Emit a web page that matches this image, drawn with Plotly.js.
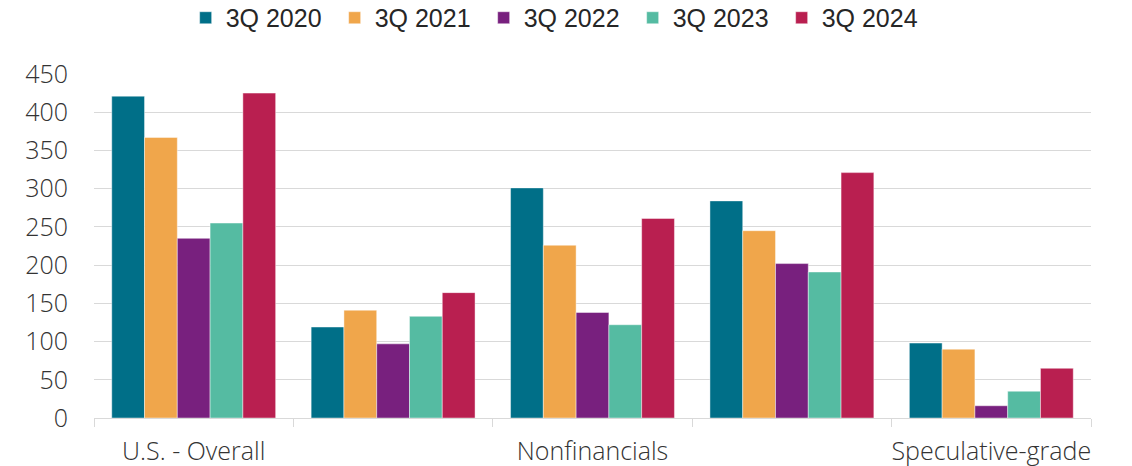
<!DOCTYPE html>
<html>
<head>
<meta charset="utf-8">
<script src="https://cdn.plot.ly/plotly-3.0.1.min.js"></script>
<style>
  html, body { margin: 0; padding: 0; background: #ffffff; }
  #chart { width: 1132px; height: 466px; }
</style>
</head>
<body>
<div id="chart"></div>
<script>
// Segment categories along the x axis
const categories = ['U.S. - Overall', 'Financials', 'Nonfinancials', 'Investment-grade', 'Speculative-grade'];
// Only every other category label is printed under the axis
const tickLabels = ['U.S. - Overall', '', 'Nonfinancials', '', 'Speculative-grade'];

// Quarterly values per segment
const seriesNames = ['3Q 2020', '3Q 2021', '3Q 2022', '3Q 2023', '3Q 2024'];
const q3_2020 = [421, 119, 301, 284, 98];
const q3_2021 = [367, 141, 226, 245, 90];
const q3_2022 = [235, 97, 138, 202, 16];
const q3_2023 = [255, 133, 122, 191, 35];
const q3_2024 = [425, 164, 261, 321, 65];

const seriesValues = [q3_2020, q3_2021, q3_2022, q3_2023, q3_2024];
const seriesColors = ['#006f88', '#f0a64b', '#78207e', '#55bba2', '#b91f50'];

const AXIS_FONT = '"Open Sans", Roboto, sans-serif';
const LEGEND_FONT = '"Liberation Sans", Arial, sans-serif';
const TEXT = '#333333';
const GRID = '#d9d9d9';

const traces = seriesNames.map((name, i) => ({
  type: 'bar',
  name: name,
  x: categories,
  y: seriesValues[i],
  marker: {
    color: seriesColors[i],
    line: { color: 'rgba(255,255,255,0.55)', width: 0.8 }
  },
  hoverinfo: 'x+y+name'
}));

const layout = {
  width: 1132,
  height: 466,
  margin: { l: 94, r: 41, t: 74, b: 48, pad: 0 },
  paper_bgcolor: '#ffffff',
  plot_bgcolor: '#ffffff',
  barmode: 'group',
  bargap: 0.178,
  bargroupgap: 0,
  font: { family: AXIS_FONT, color: TEXT, size: 22 },
  showlegend: true,
  legend: {
    orientation: 'h',
    xref: 'container',
    yref: 'container',
    x: 0.164,
    xanchor: 'left',
    y: 0.9614,
    yanchor: 'middle',
    font: { family: LEGEND_FONT, size: 25, color: '#262626' },
    entrywidth: 104,
    entrywidthmode: 'pixels',
    itemwidth: 30,
    traceorder: 'normal',
    bgcolor: 'rgba(0,0,0,0)'
  },
  xaxis: {
    type: 'category',
    tickmode: 'array',
    tickvals: categories,
    ticktext: tickLabels,
    tickson: 'boundaries',
    tickangle: 0,
    ticks: 'outside',
    ticklen: 8,
    tickwidth: 1,
    tickcolor: GRID,
    showline: true,
    linecolor: GRID,
    linewidth: 1,
    showgrid: false,
    zeroline: false,
    tickfont: { family: AXIS_FONT, size: 25, color: TEXT, weight: 300 },
    ticklabelstandoff: 11
  },
  yaxis: {
    range: [0, 450],
    tick0: 0,
    dtick: 50,
    showgrid: true,
    gridcolor: GRID,
    gridwidth: 1,
    zeroline: false,
    showline: false,
    ticks: '',
    tickfont: { family: AXIS_FONT, size: 25, color: TEXT, weight: 300 },
    ticklabelstandoff: 25
  }
};

Plotly.newPlot('chart', traces, layout, { displayModeBar: false, responsive: false });
</script>
</body>
</html>
